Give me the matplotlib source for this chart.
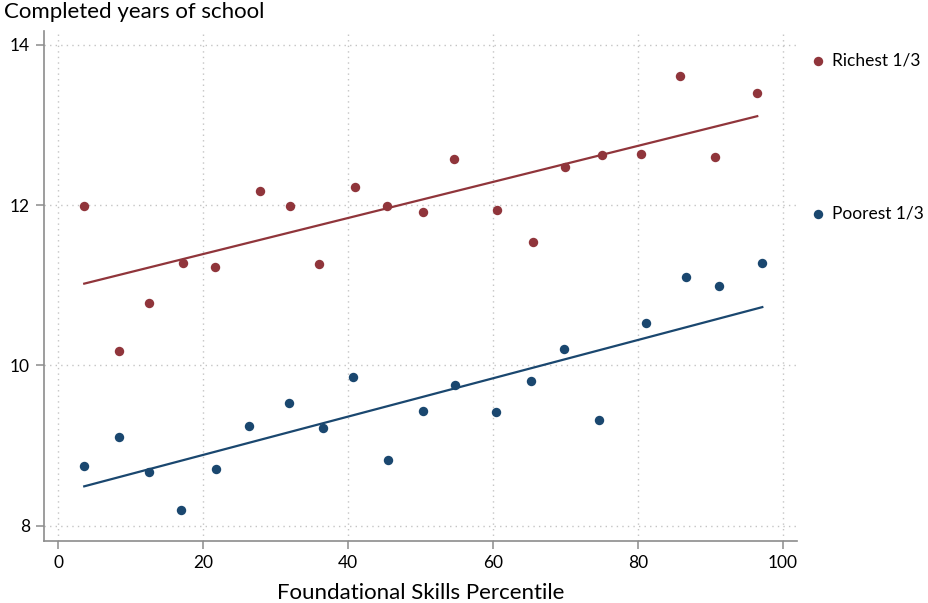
import numpy as np
import matplotlib
matplotlib.use('Agg')
import matplotlib.pyplot as plt

plt.rcParams['font.family'] = ['Lato', 'DejaVu Sans']

# Richest third
rich_x = [3.6, 8.4, 12.6, 17.3, 21.7, 27.8, 32.0, 36.0, 41.0, 45.4,
          50.3, 54.7, 60.6, 65.6, 69.9, 75.1, 80.5, 85.8, 90.7, 96.5]
rich_y = [11.99, 10.18, 10.78, 11.28, 11.23, 12.18, 11.99, 11.26, 12.23, 11.99,
          11.92, 12.58, 11.94, 11.54, 12.48, 12.63, 12.64, 13.61, 12.60, 13.40]

# Poorest third
poor_x = [3.6, 8.4, 12.6, 16.9, 21.8, 26.4, 31.9, 36.5, 40.7, 45.6,
          50.3, 54.8, 60.4, 65.3, 69.8, 74.6, 81.1, 86.7, 91.2, 97.2]
poor_y = [8.75, 9.11, 8.67, 8.20, 8.71, 9.25, 9.53, 9.22, 9.86, 8.82,
          9.43, 9.76, 9.42, 9.80, 10.21, 9.32, 10.53, 11.10, 10.99, 11.28]

# linear fit (intercept, slope) as shown in the chart (fit on underlying data)
rich_fit = (10.94, 0.0225)
poor_fit = (8.405, 0.0239)

xticks = [0, 20, 40, 60, 80, 100]
yticks = [8, 10, 12, 14]

red = '#90353B'
blue = '#1A476F'

fig = plt.figure(figsize=(9.29, 6.03), dpi=100)
ax = fig.add_axes([0.047, 0.103, 0.811, 0.845])

for xs, ys, fit, c, lab in [(rich_x, rich_y, rich_fit, red, 'Richest 1/3'),
                            (poor_x, poor_y, poor_fit, blue, 'Poorest 1/3')]:
    xs = np.array(xs)
    ys = np.array(ys)
    ax.scatter(xs, ys, s=46, color=c, zorder=3, label=lab, linewidths=0)
    a, b = fit
    xl = np.array([xs.min(), xs.max()])
    ax.plot(xl, a + b * xl, color=c, lw=1.6, zorder=2)

ax.set_xlim(-2, 102)
ax.set_ylim(7.81, 14.17)
ax.set_xticks(xticks)
ax.set_yticks(yticks)
ax.grid(True, linestyle=(0, (1, 3)), color='#c4c4c4', lw=1.0)
ax.set_axisbelow(True)

for s in ['top', 'right']:
    ax.spines[s].set_visible(False)
for s in ['left', 'bottom']:
    ax.spines[s].set_color('#8c8c8c')
    ax.spines[s].set_linewidth(1.2)
ax.tick_params(axis='both', direction='out', length=6, width=1.1,
               color='#8c8c8c', labelsize=12.5, labelcolor='black', pad=4)

ax.set_xlabel('Foundational Skills Percentile', fontsize=16, labelpad=9)
fig.text(0.004, 0.997, 'Completed years of school', fontsize=16,
         ha='left', va='top')

ax.legend(loc='upper left', bbox_to_anchor=(0.862, 0.925),
          bbox_transform=fig.transFigure, frameon=False, fontsize=12.5,
          labelspacing=7.9, handletextpad=0.2, borderaxespad=0,
          handlelength=1.2)

fig.savefig('out.png', dpi=100)
